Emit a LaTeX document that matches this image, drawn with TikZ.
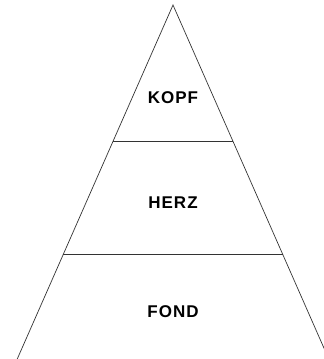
\documentclass[tikz,border=0pt]{standalone}
\usepackage{fontspec}
\setmainfont{Liberation Sans}[LetterSpace=6]

\begin{document}
\begin{tikzpicture}[x=1pt, y=1pt,
  schicht/.style={font=\fontsize{17}{17}\selectfont\bfseries},
  kante/.style={line width=0.7pt, black!80}]
 			%%%	Rahmen
 			\useasboundingbox (0,0) rectangle (324,359);
 			\clip (0,0) rectangle (324,359);
 			%%%	Pyramide
 			\draw[kante] (12.4,-11) -- (173,354) -- (333.6,-11);
 			\draw[kante] (113.2,218) -- (232.8,218);
 			\draw[kante] (63.4,105) -- (282.6,105);
 			%%%	Beschriftung
 			\node[schicht] (kopf) at (173,261) {KOPF};
 			\node[schicht] (herz) at (173,156) {HERZ};
 			\node[schicht] (fond) at (173,47.5) {FOND};
\end{tikzpicture}
\end{document}
